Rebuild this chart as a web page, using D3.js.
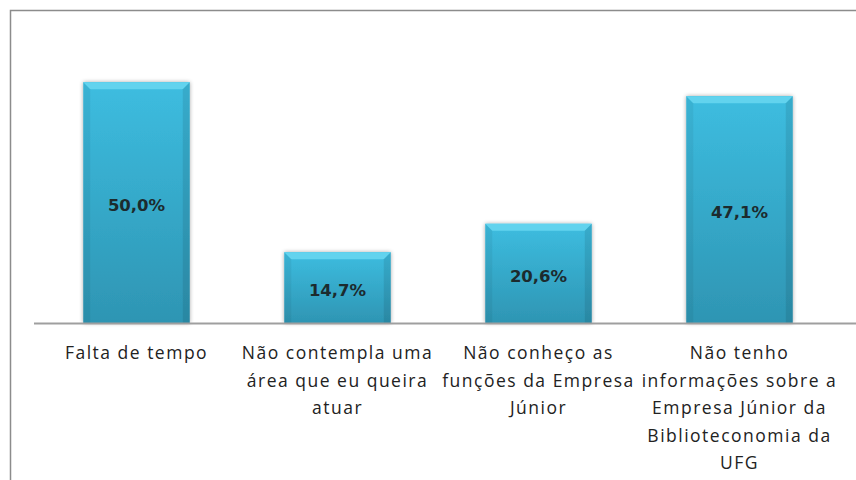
<!DOCTYPE html>
<meta charset="utf-8">
<style>
body { margin: 0; background: #fff; }
.cat { font-family: "Open Sans", sans-serif; font-size: 17.5px; letter-spacing: 1.5px; fill: #222; }
.val { font-family: "DejaVu Sans", sans-serif; font-weight: bold; font-size: 16.5px; fill: #1c2b2e; }
</style>
<body>
<script src="https://cdn.jsdelivr.net/npm/d3@7"></script>
<div id="content"></div>
<script>
var width = 856,
    height = 480;

// data
var categories = [
  "Falta de tempo",
  "Não contempla uma\nárea que eu queira\natuar",
  "Não conheço as\nfunções da Empresa\nJúnior",
  "Não tenho\ninformações sobre a\nEmpresa Júnior da\nBiblioteconomia da\nUFG"
];
var values = [50.0, 14.7, 20.6, 47.1];
var valueLabels = ["50,0%", "14,7%", "20,6%", "47,1%"];

var svg = d3.select("#content").append("svg")
    .attr("width", width)
    .attr("height", height);

var defs = svg.append("defs");
var grad = defs.append("linearGradient").attr("id", "barFill")
    .attr("x1", 0).attr("y1", 0).attr("x2", 0).attr("y2", 1);
grad.append("stop").attr("offset", "0%").attr("stop-color", "#3dbde0");
grad.append("stop").attr("offset", "100%").attr("stop-color", "#2e95b3");

var shadow = defs.append("filter").attr("id", "shadow")
    .attr("x", "-20%").attr("y", "-20%").attr("width", "140%").attr("height", "140%");
shadow.append("feGaussianBlur").attr("in", "SourceAlpha").attr("stdDeviation", 2);
shadow.append("feOffset").attr("dx", 0).attr("dy", 0).attr("result", "b");
shadow.append("feComponentTransfer").append("feFuncA").attr("type", "linear").attr("slope", 0.35);
var merge = shadow.append("feMerge");
merge.append("feMergeNode");
merge.append("feMergeNode").attr("in", "SourceGraphic");

// outer frame (right/bottom edges fall outside the picture)
svg.append("rect")
    .attr("x", 10.5).attr("y", 10.5)
    .attr("width", 900).attr("height", 600)
    .style("fill", "none")
    .style("stroke", "#8c8c8c")
    .style("stroke-width", 1.5);

var x = d3.scaleBand()
    .domain(categories)
    .range([36, 840])
    .paddingInner(0.47)
    .paddingOuter(0.235);

var y = d3.scaleLinear()
    .domain([0, 60])
    .range([323, 34]);

var bev = 7;

var bars = svg.selectAll(".bar")
    .data(values)
    .enter()
    .append("g")
    .attr("class", "bar");

bars.append("rect")
    .attr("x", function(d, i){ return x(categories[i]); })
    .attr("y", function(d){ return y(d); })
    .attr("width", x.bandwidth())
    .attr("height", function(d){ return y(0) - y(d); })
    .style("fill", "url(#barFill)")
    .attr("filter", "url(#shadow)");

// top bevel
bars.append("polygon")
    .attr("points", function(d, i){
        var x0 = x(categories[i]), x1 = x0 + x.bandwidth(), t = y(d);
        return [[x0, t], [x1, t], [x1 - bev, t + bev], [x0 + bev, t + bev]].join(" ");
    })
    .style("fill", "#62d3ee");

// side bevels
bars.append("polygon")
    .attr("points", function(d, i){
        var x0 = x(categories[i]), t = y(d), b = y(0);
        return [[x0, t], [x0 + bev, t + bev], [x0 + bev, b], [x0, b]].join(" ");
    })
    .style("fill", "#000")
    .style("fill-opacity", 0.05);

bars.append("polygon")
    .attr("points", function(d, i){
        var x1 = x(categories[i]) + x.bandwidth(), t = y(d), b = y(0);
        return [[x1, t], [x1 - bev, t + bev], [x1 - bev, b], [x1, b]].join(" ");
    })
    .style("fill", "#000")
    .style("fill-opacity", 0.09);

bars.append("text")
    .attr("class", "val")
    .attr("x", function(d, i){ return x(categories[i]) + x.bandwidth() / 2; })
    .attr("y", function(d){ return (y(d) + y(0)) / 2 + 3; })
    .attr("text-anchor", "middle")
    .attr("dy", "0.35em")
    .text(function(d, i){ return valueLabels[i]; });

// category axis
var axis = svg.append("g")
    .attr("transform", "translate(0," + y(0) + ")")
    .call(d3.axisBottom(x).tickSize(0).tickPadding(0));

axis.select(".domain").remove();
svg.append("line")
    .attr("x1", 34).attr("x2", width)
    .attr("y1", y(0) + 0.5).attr("y2", y(0) + 0.5)
    .style("stroke", "#9f9f9f")
    .style("stroke-width", 2);

axis.selectAll(".tick text").remove();
axis.selectAll(".tick").each(function(d){
    var lines = d.split("\n");
    var t = d3.select(this).append("text")
        .attr("class", "cat")
        .attr("text-anchor", "middle")
        .attr("y", 36);
    lines.forEach(function(l, k){
        t.append("tspan").attr("x", 0).attr("dy", k === 0 ? 0 : 27.5).text(l);
    });
});
</script>
</body>
